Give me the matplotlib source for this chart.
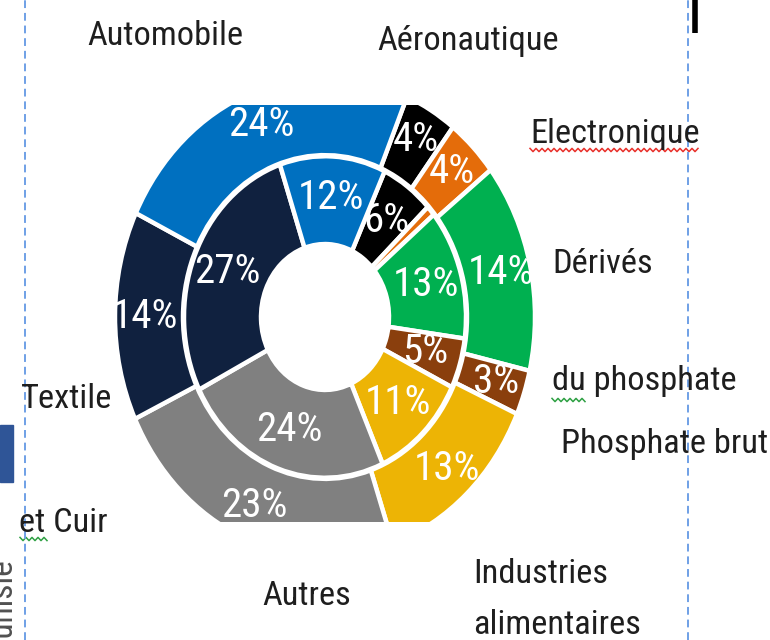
import numpy as np
import matplotlib
matplotlib.use("Agg")
import matplotlib.pyplot as plt
import matplotlib.font_manager as fm
from matplotlib.patches import Rectangle

# ---- data ----
categories = ['Aéronautique', 'Electronique', 'Dérivés du phosphate', 'Phosphate brut',
              'Industries alimentaires', 'Autres', 'Textile et Cuir', 'Automobile']
outer_vals = [4, 4, 14, 3, 13, 23, 14, 24]
inner_vals = [6, 1, 13, 5, 11, 24, 27, 12]
colors = ['#000000', '#E46C0A', '#00B050', '#8A3F0D', '#EDB405', '#808080', '#10213F', '#0070C0']

# label lines of each category (as written on the chart)
label_lines = [['Aéronautique'], ['Electronique'], ['Dérivés', 'du phosphate'], ['Phosphate brut'],
               ['Industries', 'alimentaires'], ['Autres'], ['Textile', 'et Cuir'], ['Automobile']]
# (x, baseline y) in pixels for every line
label_pos = [[(377, 50)], [(530, 143)], [(552, 273), (552, 390)], [(561, 453)],
             [(473, 583), (473, 634)], [(262, 605)], [(21, 408), (19, 532)], [(87, 45)]]

W, H = 770, 640
K = 1.14  # vertical stretch of the picture

# ---- pick a narrow font if one is installed ----
fam, stretch = 'Liberation Sans', 'normal'
found = False
for pref in ('Liberation Sans Narrow', 'Arial Narrow', 'Roboto Condensed', 'Open Sans Condensed',
             'Noto Sans Condensed'):
    for f in fm.fontManager.ttflist:
        if f.name == pref:
            fam, found = pref, True
            break
    if found:
        break
if not found:
    for f in fm.fontManager.ttflist:
        st = str(f.stretch)
        if st in ('condensed', 'semi-condensed', 'extra-condensed') or 'Narrow' in f.name \
                or 'Condensed' in f.name:
            fam, stretch = f.name, f.stretch
            break
FAMILY = [fam, 'DejaVu Sans']


def Y(py):
    return (H - py) / K


fig = plt.figure(figsize=(W / 100, H / 100), dpi=100)
ax = fig.add_axes([0, 0, 1, 1])
renderer = fig.canvas.get_renderer()


def fit_size(s, target_px):
    t = fig.text(0, 0, s, fontsize=10, family=FAMILY, stretch=stretch)
    w = t.get_window_extent(renderer).width
    t.remove()
    return 10 * target_px / w


pct_size = fit_size('24%', 66)
lab_size = fit_size('Automobile', 155)

cx, cy = 325, Y(317)
w_out, _ = ax.pie(outer_vals, colors=colors, radius=210, center=(cx, cy), startangle=67,
                  counterclock=False, wedgeprops=dict(width=68, edgecolor='white', linewidth=3.2))
w_in, _ = ax.pie(inner_vals, colors=colors, radius=141, center=(cx, cy), startangle=65,
                 counterclock=False, wedgeprops=dict(width=77, edgecolor='white', linewidth=3.2))

ax.set_xlim(0, W)
ax.set_ylim(0, H / K)
ax.set_aspect('auto')
ax.axis('off')

clip = Rectangle((0, Y(522)), W, Y(105) - Y(522), transform=ax.transData)
for w in w_out + w_in:
    w.set_clip_on(True)
    w.set_clip_path(clip)


def put_pct(wedges, vals, r):
    for w, v in zip(wedges, vals):
        if v < 2:
            continue
        mid = np.deg2rad((w.theta1 + w.theta2) / 2)
        t = ax.text(cx + r * np.cos(mid), cy + r * np.sin(mid), f"{v}%", color='white',
                    fontsize=pct_size, ha='center', va='center', family=FAMILY, stretch=stretch,
                    clip_on=True)
        t.set_clip_path(clip)


put_pct(w_out, outer_vals, 180)
put_pct(w_in, inner_vals, 105)

for lines, poss in zip(label_lines, label_pos):
    for s, (px, py) in zip(lines, poss):
        ax.text(px, Y(py), s, fontsize=lab_size, color='#1e1e1e', ha='left', va='baseline',
                family=FAMILY, stretch=stretch)


def wavy(x0, x1, py, color):
    xs = np.arange(x0, x1 + 0.1, 3.0)
    ys = py + np.where(np.arange(len(xs)) % 2 == 0, -1.6, 1.6)
    ax.plot(xs, Y(ys), color=color, lw=1.1)


wavy(530, 698, 150, '#E8302A')
wavy(552, 585, 400, '#2EA043')
wavy(20, 47, 539, '#2EA043')

# page decorations of the screenshot
for xl in (25, 688):
    ax.plot([xl, xl], [0, H / K], color='#6FA0E6', lw=1.4, ls=(0, (4, 2.5)))
ax.plot([694.5, 694.5], [Y(0), Y(33)], color='black', lw=4, solid_capstyle='butt')
ax.add_patch(Rectangle((0, Y(482)), 13, Y(425) - Y(482), color='#2F5597'))
ax.text(-13, Y(655), 'Tunisie', rotation=90, fontsize=24, color='#505050',
        ha='left', va='bottom', family=FAMILY)

fig.savefig('out.png', dpi=100)
